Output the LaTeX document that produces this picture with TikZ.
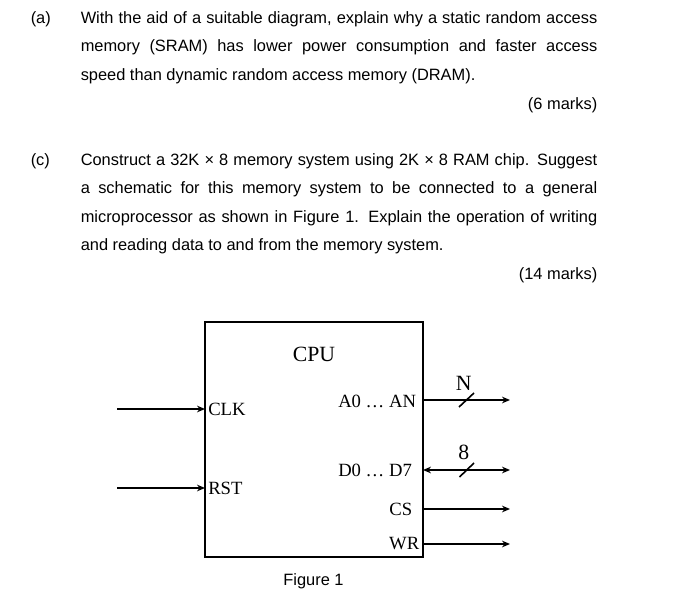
\documentclass[tikz,border=0pt]{standalone}
\usepackage{fontspec}
\setmainfont{Liberation Sans}
\newfontfamily\serifx{Liberation Serif}
\usetikzlibrary{arrows.meta}
\newcommand{\fullline}[1]{\makebox[387.4pt][s]{#1}}
\tikzset{
 txt/.style={anchor=base west,inner sep=0,font=\fontsize{12.3}{14}\selectfont},
 rtxt/.style={anchor=base east,inner sep=0,font=\fontsize{12.3}{14}\selectfont},
 lab/.style={inner sep=0,font=\serifx\fontsize{14}{16}\selectfont},
 big/.style={inner sep=0,font=\serifx\fontsize{16.3}{18}\selectfont},
 sig/.style={draw=black,line width=1.3pt,-{Stealth[length=6pt,width=5pt]}},
 bus/.style={draw=black,line width=1.3pt,{Stealth[length=6pt,width=5pt]}-{Stealth[length=6pt,width=5pt]}},
 tick/.style={draw=black,line width=1.2pt}
}
\begin{document}
\begin{tikzpicture}[x=0.75pt,y=-0.75pt]
\useasboundingbox (0,0) rectangle (700,595);
\node[txt] (a) at (30.5,23.7) {(a)};
\node[txt] (l1) at (80.5,23.7) {\fullline{With the aid of a suitable diagram, explain why a static random access}};
\node[txt] (l2) at (80.5,51.7) {\fullline{memory (SRAM) has lower power consumption and faster access}};
\node[txt] (l3) at (80.5,80.2) {speed than dynamic random access memory (DRAM).};
\node[rtxt] (m1) at (597.5,109.2) {(6 marks)};
\node[txt] (c) at (30.5,165.7) {(c)};
\node[txt] (l4) at (80.5,165.7) {\fullline{Construct a 32K × 8 memory system using 2K × 8 RAM chip. Suggest}};
\node[txt] (l5) at (80.5,193.7) {\fullline{a schematic for this memory system to be connected to a general}};
\node[txt] (l6) at (80.5,222.2) {\fullline{microprocessor as shown in Figure 1. Explain the operation of writing}};
\node[txt] (l7) at (80.5,250.7) {and reading data to and from the memory system.};
\node[rtxt] (m2) at (597.5,279.2) {(14 marks)};
\node[draw=black,line width=1.5pt,minimum width=163.2pt,minimum height=176.25pt,inner sep=0,outer sep=0,anchor=north west] (cpu) at (205,322) {};
\node[big] (cput) at (314,354.5) {CPU};
\node[lab,anchor=west] (clk) at (208,409) {CLK};
\node[lab,anchor=west] (rst) at (208,488) {RST};
\node[lab,anchor=west] (an) at (338,401) {A0 … AN};
\node[lab,anchor=west] (d7) at (338,470) {D0 … D7};
\node[lab,anchor=east] (cs) at (412.5,509) {CS};
\node[lab,anchor=east] (wr) at (419.5,544) {WR};
\node[big] (nl) at (463.7,383) {N};
\node[big] (el) at (463.7,452.5) {8};
\node[txt,anchor=base] (fig) at (313.5,585) {Figure 1};
\coordinate (c0) at (117,409); \coordinate (c1) at (205,409);
\coordinate (r0) at (117,488); \coordinate (r1) at (205,488);
\coordinate (a0) at (423,400); \coordinate (a1) at (510,400);
\coordinate (d0) at (423,470); \coordinate (d1) at (510,470);
\coordinate (s0) at (423,509); \coordinate (s1) at (510,509);
\coordinate (w0) at (423,544); \coordinate (w1) at (510,544);
\draw[sig] (c0) -- (c1);
\draw[sig] (r0) -- (r1);
\draw[sig] (a0) -- (a1);
\draw[bus] (d0) -- (d1);
\draw[sig] (s0) -- (s1);
\draw[sig] (w0) -- (w1);
\coordinate (t1a) at (459,407); \coordinate (t1b) at (474,393);
\coordinate (t2a) at (459.5,477); \coordinate (t2b) at (474,463);
\draw[tick] (t1a) -- (t1b);
\draw[tick] (t2a) -- (t2b);
\end{tikzpicture}
\end{document}
